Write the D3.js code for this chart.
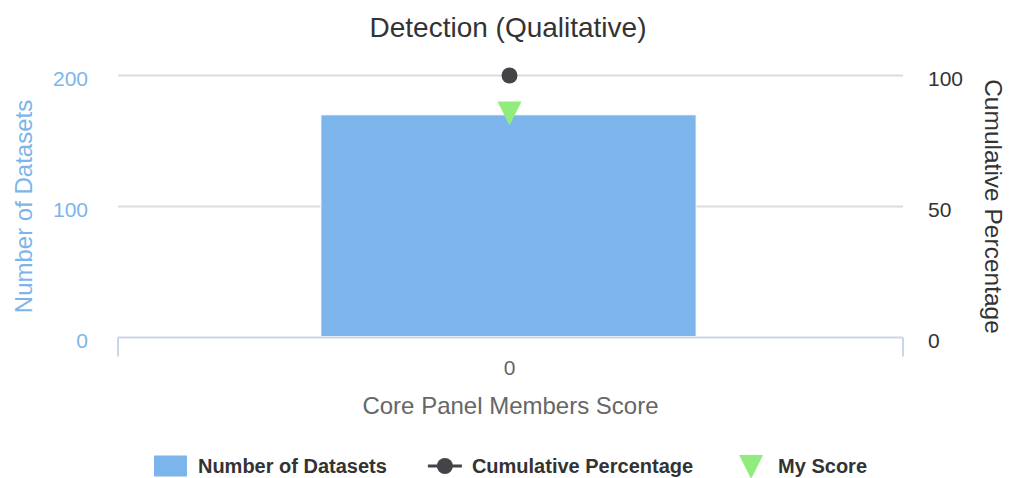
<!DOCTYPE html>
<html>
<head>
<meta charset="utf-8">
<script src="https://cdn.jsdelivr.net/npm/d3@7"></script>
<style>
  html, body { margin: 0; padding: 0; background: #fff; }
  svg { display: block; font-family: "Liberation Sans", Arial, Helvetica, sans-serif; }
</style>
</head>
<body>
<svg id="chart" width="1009" height="478"></svg>
<script>
// ---- data ----
const categories = ["0"];
const datasetCounts = [170];          // Number of Datasets (left axis)
const cumulativePercent = [100];      // Cumulative Percentage (right axis)
const myScore = [171];                // My Score (left axis)
const leftTicks = [0, 100, 200];
const rightTicks = [0, 50, 100];
const chartTitle = "Detection (Qualitative)";
const xTitle = "Core Panel Members Score";
const leftTitle = "Number of Datasets";
const rightTitle = "Cumulative Percentage";
const legendNames = ["Number of Datasets", "Cumulative Percentage", "My Score"];

// ---- layout ----
const W = 1009, H = 478;
const plot = { left: 118, right: 903, top: 75.5, bottom: 337.5 };
const colors = { bar: "#7cb5ec", line: "#434348", score: "#90ed7d" };

const svg = d3.select("#chart");

const x = d3.scaleBand().domain(categories).range([plot.left, plot.right]).padding(0);
const yL = d3.scaleLinear().domain([0, 200]).range([plot.bottom, plot.top]);
const yR = d3.scaleLinear().domain([0, 100]).range([plot.bottom, plot.top]);

// title
svg.append("text")
  .attr("x", 508).attr("y", 37)
  .attr("text-anchor", "middle")
  .attr("font-size", 28).attr("fill", "#333")
  .text(chartTitle);

// gridlines
svg.append("g").selectAll("line").data(leftTicks.filter(d => d !== 0)).join("line")
  .attr("x1", plot.left).attr("x2", plot.right)
  .attr("y1", d => yL(d)).attr("y2", d => yL(d))
  .attr("stroke", "#dcdcdc").attr("stroke-width", 2);

// left axis labels
const leftAxis = d3.axisLeft(yL).tickValues(leftTicks).tickSize(0).tickPadding(0);
const gL = svg.append("g").attr("transform", `translate(88,0)`).call(leftAxis);
gL.select(".domain").remove();
gL.selectAll("text").attr("font-size", 21).attr("fill", colors.bar)
  .attr("font-family", "'Liberation Sans', Arial, sans-serif")
  .attr("dy", "0.32em").attr("y", 3);

// right axis labels
const rightAxis = d3.axisRight(yR).tickValues(rightTicks).tickSize(0).tickPadding(0);
const gR = svg.append("g").attr("transform", `translate(928,0)`).call(rightAxis);
gR.select(".domain").remove();
gR.selectAll("text").attr("font-size", 21).attr("fill", "#333")
  .attr("font-family", "'Liberation Sans', Arial, sans-serif")
  .attr("dy", "0.32em").attr("y", 3);

// bars
const barRatio = 0.478;
svg.append("g").selectAll("rect").data(datasetCounts).join("rect")
  .attr("x", (d, i) => x(categories[i]) + x.bandwidth() * (1 - barRatio) / 2 - 2)
  .attr("width", x.bandwidth() * barRatio)
  .attr("y", d => yL(d))
  .attr("height", d => yL(0) - yL(d) - 1)
  .attr("fill", colors.bar)
  .attr("stroke", "#fff").attr("stroke-width", 1);

// x axis line + ticks
const xAxisG = svg.append("g");
xAxisG.append("line")
  .attr("x1", plot.left).attr("x2", plot.right)
  .attr("y1", plot.bottom).attr("y2", plot.bottom)
  .attr("stroke", "#ccd6eb").attr("stroke-width", 2);
const tickEdges = [plot.left, plot.right];
xAxisG.selectAll("line.tick").data(tickEdges).join("line").attr("class", "tick")
  .attr("x1", d => d).attr("x2", d => d)
  .attr("y1", plot.bottom).attr("y2", plot.bottom + 19)
  .attr("stroke", "#ccd6eb").attr("stroke-width", 2);
xAxisG.selectAll("text").data(categories).join("text")
  .attr("x", d => x(d) + x.bandwidth() / 2 - 1)
  .attr("y", 375)
  .attr("text-anchor", "middle")
  .attr("font-size", 21).attr("fill", "#666")
  .text(d => d);

// axis titles
svg.append("text")
  .attr("x", x(categories[0]) + x.bandwidth() / 2).attr("y", 414)
  .attr("text-anchor", "middle")
  .attr("font-size", 24).attr("fill", "#666")
  .text(xTitle);

svg.append("text")
  .attr("transform", `translate(32,${(plot.top + plot.bottom) / 2}) rotate(-90)`)
  .attr("text-anchor", "middle")
  .attr("font-size", 24).attr("fill", colors.bar)
  .text(leftTitle);

svg.append("text")
  .attr("transform", `translate(985,${(plot.top + plot.bottom) / 2}) rotate(90)`)
  .attr("text-anchor", "middle")
  .attr("font-size", 24.5).attr("fill", "#333")
  .text(rightTitle);

// cumulative line + markers
const line = d3.line()
  .x((d, i) => x(categories[i]) + x.bandwidth() / 2 - 1)
  .y(d => yR(d));
svg.append("path").datum(cumulativePercent)
  .attr("d", line).attr("fill", "none")
  .attr("stroke", colors.line).attr("stroke-width", 2);
svg.append("g").selectAll("circle").data(cumulativePercent).join("circle")
  .attr("cx", (d, i) => x(categories[i]) + x.bandwidth() / 2 - 1)
  .attr("cy", d => yR(d))
  .attr("r", 8)
  .attr("fill", colors.line);

// my score triangles
const triR = 12;
const triPath = r => `M${-r},${-r}L${r},${-r}L0,${r}Z`;
svg.append("g").selectAll("path").data(myScore).join("path")
  .attr("transform", (d, i) => `translate(${x(categories[i]) + x.bandwidth() / 2 - 1},${yL(d)})`)
  .attr("d", triPath(triR))
  .attr("fill", colors.score);

// legend
const legend = svg.append("g");
const symW = 34, gapSym = 10, gapItem = 41, legY = 466;
let cursor = 0;
legendNames.forEach((name, i) => {
  const g = legend.append("g");
  const t = g.append("text")
    .attr("x", symW + gapSym).attr("y", legY + 7)
    .attr("font-size", 20).attr("font-weight", "bold").attr("fill", "#333")
    .text(name);
  if (i === 0) {
    g.append("rect").attr("x", 0).attr("y", legY - 10.5).attr("width", 33).attr("height", 21)
      .attr("fill", colors.bar);
  } else if (i === 1) {
    g.append("line").attr("x1", 0).attr("x2", symW).attr("y1", legY).attr("y2", legY)
      .attr("stroke", colors.line).attr("stroke-width", 3);
    g.append("circle").attr("cx", symW / 2).attr("cy", legY).attr("r", 8).attr("fill", colors.line);
  } else {
    g.append("path").attr("transform", `translate(${symW / 2},${legY + 1})`)
      .attr("d", triPath(12)).attr("fill", colors.score);
  }
  const w = symW + gapSym + t.node().getComputedTextLength();
  g.attr("transform", `translate(${cursor},0)`);
  cursor += w + gapItem;
});
const legendWidth = cursor - gapItem;
legend.attr("transform", `translate(${(plot.left + plot.right) / 2 - legendWidth / 2},0)`);
</script>
</body>
</html>
